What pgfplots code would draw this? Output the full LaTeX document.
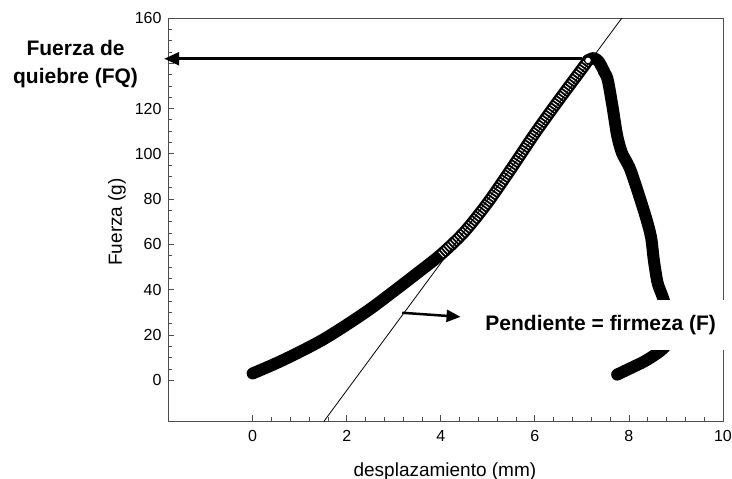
\documentclass[border=0pt]{standalone}
\usepackage{fontspec}
\setmainfont{Liberation Sans}
\usepackage{pgfplots}
\usepackage{pgfplotstable}
\pgfplotsset{compat=1.18}
\usetikzlibrary{arrows.meta}

\pgfplotstableread{
x y
0.00 3.0
0.50 7.5
1.00 12.5
1.50 18.0
2.00 24.5
2.50 31.5
3.00 39.3
3.50 47.3
4.00 55.5
4.50 65.5
5.00 78.5
5.50 93.5
6.00 109.0
6.50 123.5
7.00 137.5
7.13 141.3
}\tblRising

\pgfplotstableread{
x y
4.00 55.5
4.50 65.5
5.00 78.5
5.50 93.5
6.00 109.0
6.50 123.5
7.00 137.5
7.13 141.3
}\tblRings

\pgfplotstableread{
x y
7.13 141.3
7.25 142.3
7.36 140.7
7.48 136.0
7.55 132.6
7.65 121.0
7.75 108.0
7.85 100.5
7.95 96.5
8.04 92.5
8.20 82.6
8.36 72.0
8.47 63.2
8.53 53.0
8.61 43.0
8.72 36.7
8.85 28.0
8.95 20.0
}\tblFalling

\pgfplotstableread{
x y
7.75 2.5
7.90 4.0
8.10 6.0
8.30 8.0
8.50 10.5
8.70 13.5
8.90 18.0
}\tblSecond

\pgfplotstableread{
x y
1.52 -18
7.85 160
}\tblTangent

\begin{document}
\begin{tikzpicture}
\begin{axis}[
  scale only axis, width=555pt, height=403pt,
  xmin=-1.8, xmax=10, ymin=-18, ymax=160,
  xtick={0,2,...,10}, ytick={0,20,...,160},
  yticklabels={0,20,40,60,80,100,120,,160},
  minor x tick num=4, minor y tick num=3,
  tick align=inside, xtick pos=bottom, ytick pos=left,
  major tick length=6pt, minor tick length=4pt,
  axis line style={black!70, line width=0.8pt},
  tick style={black!70, line width=0.8pt},
  /pgf/number format/assume math mode=true,
  ticklabel style={font=\fontsize{16}{19}\selectfont},
  xticklabel style={yshift=-6pt},
  yticklabel style={xshift=-3pt},
  label style={font=\fontsize{19}{22}\selectfont},
  xlabel={desplazamiento (mm)}, ylabel={Fuerza (g)},
  xlabel style={at={(axis description cs:0.499,-0.125)}, anchor=center},
  ylabel style={at={(axis description cs:-0.092,0.494)}, anchor=center},
  clip=false,
]
\coordinate (O) at (rel axis cs:0,0);
\addplot[black, line width=12pt, line cap=round, line join=round, smooth] table {\tblRising};
\addplot[black, line width=12pt, line cap=round, line join=round, smooth] table {\tblFalling};
\addplot[black, line width=12pt, line cap=round, line join=round, smooth] table {\tblSecond};
\addplot[white, line width=7pt, dash pattern=on 0.9pt off 2.1pt, smooth] table {\tblRings};
\addplot[black, line width=0.8pt] table {\tblTangent};
\draw[black, line width=2.5pt, -{Triangle[length=15pt,width=13pt]}] (axis cs:7.0,142) -- (axis cs:-1.88,142);
\draw[black, fill=white, line width=1.2pt] (axis cs:7.13,141.3) circle (3.5pt);
\draw[black, line width=2.5pt, -{Triangle[length=14pt,width=12pt]}] (axis cs:3.18,29.8) -- (axis cs:4.42,28);
\node[align=center, font=\fontsize{21}{28}\selectfont\bfseries] at (axis cs:-3.766,139.7) {Fuerza de\\quiebre (FQ)};
\coordinate (B1) at (axis cs:4.65,13.3);
\coordinate (B2) at (axis cs:10.25,35.4);
\coordinate (T) at (axis cs:7.40,22.1);
\end{axis}
\fill[white] (B1) rectangle (B2);
\node[anchor=base, font=\fontsize{21}{25}\selectfont\bfseries, inner sep=0pt] at (T) {Pendiente = firmeza (F)};
\pgfresetboundingbox
\path[use as bounding box] (O) ++(-168pt,-58pt) rectangle ++(732pt,479pt);
\end{tikzpicture}
\end{document}
